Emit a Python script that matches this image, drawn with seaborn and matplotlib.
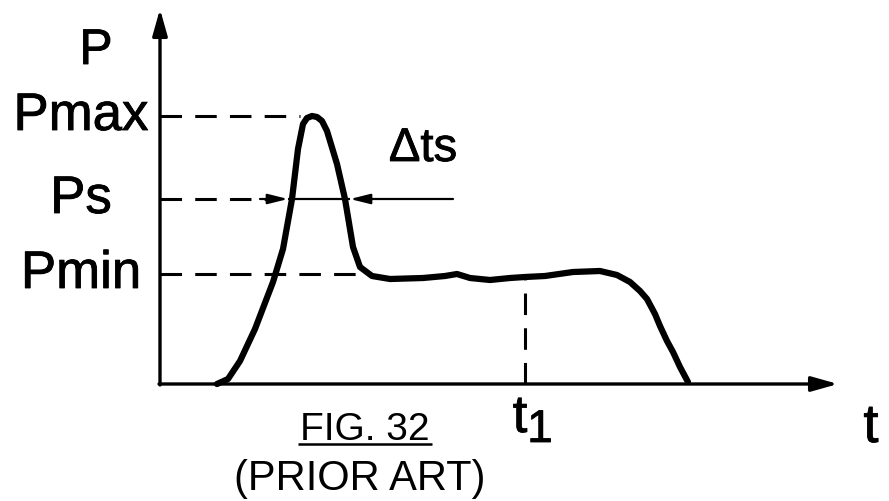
import matplotlib
matplotlib.use("Agg")
import matplotlib.pyplot as plt
import matplotlib.patheffects as pe
import seaborn as sns
import pandas as pd

# ---- data (time offset, pressure) ----
t_vals = [57, 68, 80, 95, 113, 123, 132, 138, 143, 147, 152, 157, 162, 167, 177, 185, 193, 200,
          212, 230, 263, 285, 297, 310, 330, 350, 365, 385, 413, 440, 457, 470, 480, 487,
          495, 500, 507, 513, 520, 528]
p_vals = [0, 5, 23, 55, 102, 135, 185, 235, 260, 266, 268, 267, 263, 253, 220, 185, 137, 117,
          108, 105, 106, 108, 110, 106, 104, 106, 107, 108, 112, 113, 109, 102, 93, 85,
          70, 58, 43, 32, 17, 2]
level_names = ["Pmax", "Ps", "Pmin"]
level_values = [268, 185, 110]
t1_value = 365

sns.set_style("white")
plt.rcParams["font.family"] = ["Liberation Sans", "DejaVu Sans"]
plt.rcParams["lines.scale_dashes"] = False
plt.rcParams["text.color"] = "black"

fig = plt.figure(figsize=(8.89, 5.02), dpi=100)
ax = fig.add_axes([0, 0, 1, 1])
ax.set_xlim(-160, 729)
ax.set_ylim(-117, 385)
ax.axis("off")

df = pd.DataFrame({"t": t_vals, "P": p_vals})
sns.lineplot(data=df, x="t", y="P", sort=False, color="black", lw=4.5, ax=ax,
             solid_joinstyle="round", solid_capstyle="round")

dash = (0, (15.5, 9.5))
# axes arrows
ax.annotate("", xy=(0, 375), xytext=(0, -1),
            arrowprops=dict(arrowstyle="-|>,head_length=1.6,head_width=0.45", lw=2.4, color="black",
                            shrinkA=0, shrinkB=0))
ax.annotate("", xy=(678, 0), xytext=(-1, 0),
            arrowprops=dict(arrowstyle="-|>,head_length=1.6,head_width=0.45", lw=2.4, color="black",
                            shrinkA=0, shrinkB=0))

# dashed level lines
ax.hlines(level_values[0], 0, 140, colors="black", lw=2.2, linestyles=dash)
ax.hlines(level_values[1], 0, 110, colors="black", lw=2.2, linestyles=dash)
ax.hlines(level_values[2], 0, 200, colors="black", lw=2.2, linestyles=dash)
ax.vlines(t1_value, 0, 107, colors="black", lw=2.2, linestyles=dash)

# delta ts arrows
ax.annotate("", xy=(128, level_values[1]), xytext=(100, level_values[1]),
            arrowprops=dict(arrowstyle="-|>,head_length=1.2,head_width=0.3", lw=1.6, color="black",
                            shrinkA=0, shrinkB=0))
ax.annotate("", xy=(190, level_values[1]), xytext=(293, level_values[1]),
            arrowprops=dict(arrowstyle="-|>,head_length=1.2,head_width=0.3", lw=1.6, color="black",
                            shrinkA=0, shrinkB=0))
ax.hlines(level_values[1], 128, 190, colors="black", lw=1.6)

# labels
heavy = [pe.withStroke(linewidth=0.6, foreground="black")]
ax.text(-64, 333, "P", fontsize=36, ha="center", va="center", path_effects=heavy)
for name, val in zip(level_names, level_values):
    ax.text(-79, val, name, fontsize=38, ha="center", va="center", path_effects=heavy)
ax.text(263, 235, "Δts", fontsize=34, ha="center", va="center", path_effects=heavy)
ax.text(t1_value - 5, -48, "t", fontsize=38, ha="center", va="baseline", path_effects=heavy)
ax.text(t1_value + 15, -58, "1", fontsize=33, ha="center", va="baseline", path_effects=heavy)
ax.text(711, -58, "t", fontsize=39, ha="center", va="baseline", path_effects=heavy)
ax.text(205, -55, "FIG. 32", fontsize=28, ha="center", va="baseline")
ax.hlines(-60, 138, 272, colors="black", lw=1.8)
ax.text(200, -105, "(PRIOR ART)", fontsize=30, ha="center", va="baseline")

fig.savefig("out.png", dpi=100, facecolor="white")
